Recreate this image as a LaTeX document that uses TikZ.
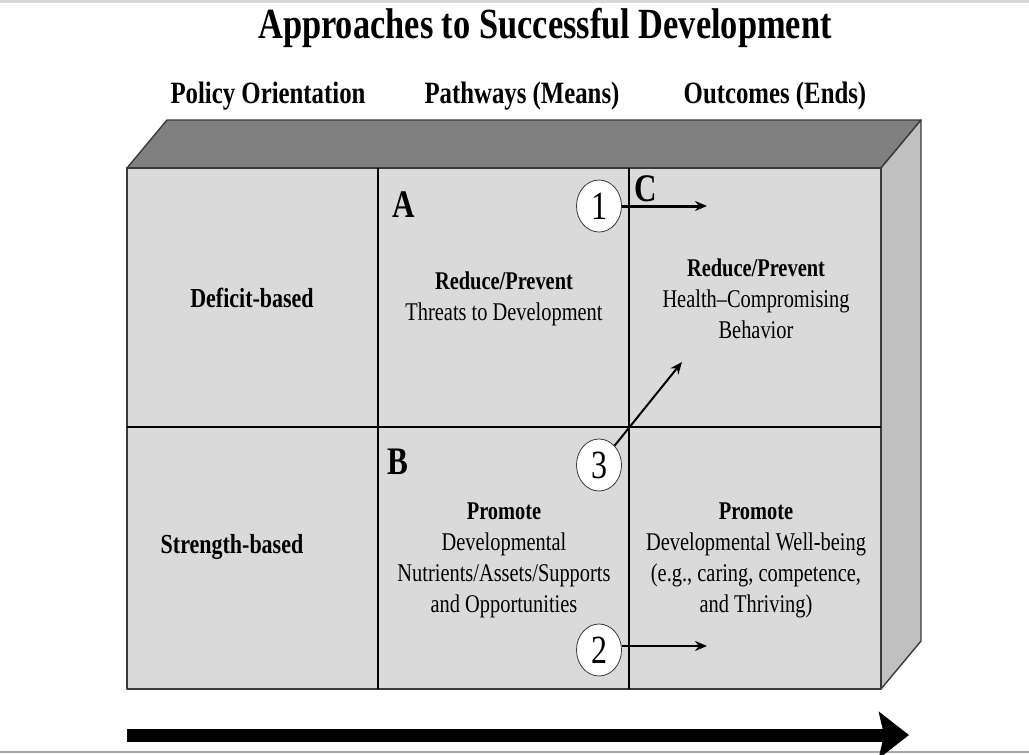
\documentclass[tikz,border=0pt]{standalone}
\usepackage{fontspec}
\setmainfont[FakeStretch=0.8]{Liberation Serif}
\usetikzlibrary{positioning,arrows.meta,shapes.geometric}

\definecolor{frontgray}{HTML}{DADADA}
\definecolor{topgray}{HTML}{808080}
\definecolor{sidegray}{HTML}{C0C0C0}
\definecolor{edgegray}{HTML}{3A3A3A}

\begin{document}
\begin{tikzpicture}[
    x=1pt, y=-1pt,
    face/.style={draw=edgegray,line width=1.4pt,line join=round},
    divider/.style={draw=black,line width=1.2pt},
    title/.style={font=\fontsize{43}{46}\selectfont\bfseries},
    head/.style={font=\fontsize{31}{34}\selectfont\bfseries},
    rowlabel/.style={font=\fontsize{27.5}{31}\selectfont\bfseries},
    cell/.style={align=center,font=\fontsize{25.5}{31}\selectfont,inner sep=0pt},
    letter/.style={font=\fontsize{39}{42}\selectfont\bfseries,inner sep=0pt},
    num/.style={ellipse,draw=edgegray,fill=white,line width=0.8pt,
        minimum width=45pt,minimum height=52pt,inner sep=0pt,
        font=\fontsize{40}{42}\selectfont},
    link/.style={draw,line width=2pt,-{Stealth[length=12pt,width=10pt]}}
]
\useasboundingbox (0,0) rectangle (1029,755);
\draw[gray!30,line width=3pt] (0,1.5) -- (1029,1.5);
\draw[gray!70,line width=1.5pt] (0,752) -- (1029,752);

\node[title] (title) at (545,28) {Approaches to Successful Development};
\node[head] (policy) at (268,96) {Policy Orientation};
\node[head] (means) at (522,96) {Pathways (Means)};
\node[head] (ends) at (775,96) {Outcomes (Ends)};

% the block: top, side and front faces
\fill[topgray,face] (127,168) -- (167,120) -- (921,120) -- (881,168) -- cycle;
\fill[sidegray,face] (881,168) -- (921,120) -- (921,641) -- (881,689) -- cycle;
\fill[frontgray,face] (127,168) rectangle (881,689);
\draw[divider] (378,168) -- (378,689);
\draw[divider] (629,168) -- (629,689);
\draw[divider] (127,427) -- (881,427);

\node[rowlabel] (deficit) at (252,298) {Deficit-based};
\node[rowlabel] (strength) at (232,547) {Strength-based};

\node[cell] (threats) at (504,299) {\textbf{Reduce/Prevent}\\Threats to Development};
\node[cell] (health) at (756,299) {\textbf{Reduce/Prevent}\\Health--Compromising\\Behavior};
\node[cell] (assets) at (504,560) {\textbf{Promote}\\Developmental\\Nutrients/Assets/Supports\\and Opportunities};
\node[cell] (wellbeing) at (756,560) {\textbf{Promote}\\Developmental Well-being\\(e.g., caring, competence,\\and Thriving)};

\node[letter] (la) at (404,205) {A};
\node[letter] (lb) at (398,462) {B};
\node[letter] (lc) at (646,189) {C};

\node[num] (n1) at (599,206) {1};
\node[num] (n3) at (599,465) {3};
\node[num] (n2) at (599,650) {2};

\coordinate (t1) at (707,206);
\coordinate (t3) at (682,362);
\coordinate (t2) at (707,646);
\draw[link,line width=3pt] (n1.east) -- (t1);
\draw[link] (n3) -- (t3);
\draw[link] (n2.east |- t2) -- (t2);

% direction of development
\coordinate (flowstart) at (127,735);
\coordinate (flowend) at (909,735);
\draw[line width=13pt,-{Stealth[length=30pt,width=46pt,inset=5pt]}] (flowstart) -- (flowend);
\end{tikzpicture}
\end{document}
